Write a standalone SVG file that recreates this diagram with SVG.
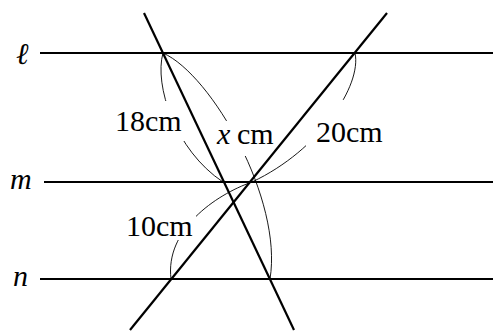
<svg xmlns="http://www.w3.org/2000/svg" width="494" height="331" viewBox="0 0 494 331">
<rect width="494" height="331" fill="#fff"/>
<g id="connectors" fill="none" stroke="#000">
<g id="arcs" stroke-width="0.9">
<path d="M163,53 C154,85 175,150 223,182"/>
<path d="M163,53 C212,75 283,200 270,279"/>
<path d="M355,53 C362,85 320,150 252,182"/>
<path d="M252,182 C215,195 165,230 171,279"/>
</g>
</g>
<g id="label-backgrounds" fill="#fff">
<rect x="110" y="101" width="78" height="40"/>
<rect x="212" y="121" width="70" height="35"/>
<rect x="306" y="100" width="86" height="47"/>
<rect x="122" y="210" width="74" height="30"/>
</g>
<g id="line-l"><line stroke="#000" stroke-width="2.2" x1="40" y1="53" x2="493" y2="53"/><text x="16" y="64" font-size="30" font-family="'DejaVu Serif'" font-style="italic">ℓ</text></g>
<g id="line-m"><line stroke="#000" stroke-width="2.2" x1="44" y1="182" x2="493" y2="182"/><text x="10" y="189" font-size="30" font-family="'Liberation Serif'" font-style="italic">m</text></g>
<g id="line-n"><line stroke="#000" stroke-width="2.2" x1="40" y1="279" x2="493" y2="279"/><text x="13" y="286" font-size="30" font-family="'Liberation Serif'" font-style="italic">n</text></g>
<g id="transversal-1"><line stroke="#000" stroke-width="2.2" x1="144" y1="13" x2="294" y2="330"/></g>
<g id="transversal-2"><line stroke="#000" stroke-width="2.2" x1="387" y1="13" x2="130" y2="330"/></g>
<g id="labels">
<text x="115" y="130.5" font-size="30" font-family="'Liberation Serif'">18cm</text>
<text x="217" y="144" font-size="30" font-family="'Liberation Serif'" font-style="italic">x</text>
<text x="237" y="144" font-size="30" font-family="'Liberation Serif'">cm</text>
<text x="316" y="141.5" font-size="30" font-family="'Liberation Serif'">20cm</text>
<text x="126" y="235.5" font-size="30" font-family="'Liberation Serif'">10cm</text>
</g>
</svg>
